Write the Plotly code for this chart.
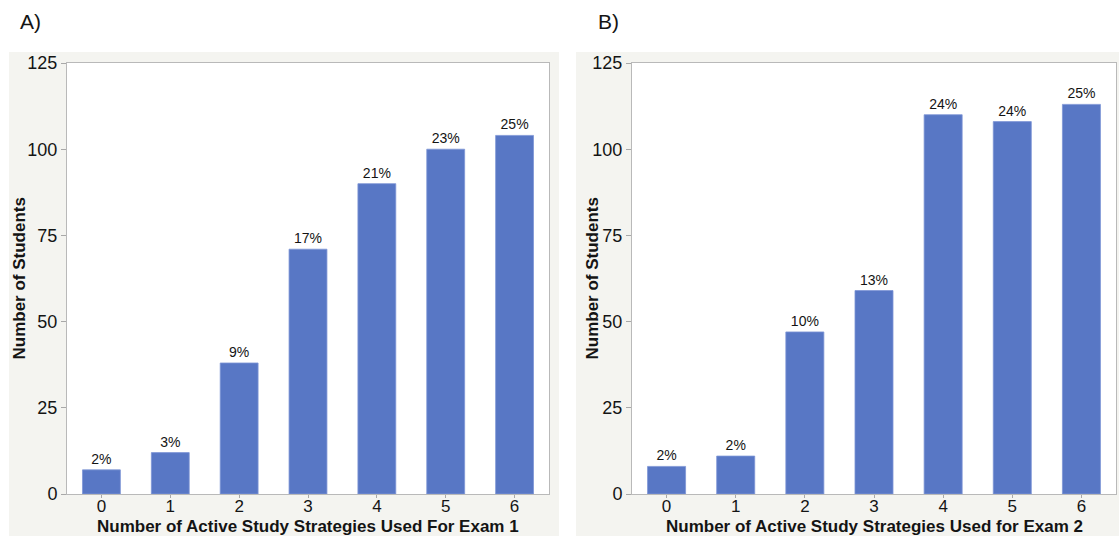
import plotly.graph_objects as go

W, H = 1119, 536

# Data
strategies = [0, 1, 2, 3, 4, 5, 6]
exam1_counts = [7, 12, 38, 71, 90, 100, 104]
exam1_pct = ["2%", "3%", "9%", "17%", "21%", "23%", "25%"]
exam2_counts = [8, 11, 47, 59, 110, 108, 113]
exam2_pct = ["2%", "2%", "10%", "13%", "24%", "24%", "25%"]
y_ticks = [0, 25, 50, 75, 100, 125]

BAR = "#5877c5"
BAR_EDGE = "#7e95d6"
PANEL = "#f4f4f0"
FONT = "Liberation Sans, Arial, sans-serif"
INK = "#141414"


def px_x(x):
    return x / W


def px_y(y):
    return 1 - y / H


fig = go.Figure()

for cnt, pct, xa, ya in [(exam1_counts, exam1_pct, "x", "y"),
                         (exam2_counts, exam2_pct, "x2", "y2")]:
    fig.add_trace(go.Bar(
        x=strategies, y=cnt, text=pct, textposition="outside",
        textfont=dict(size=14, color=INK, family=FONT), cliponaxis=False,
        marker=dict(color=BAR, line=dict(color=BAR_EDGE, width=0.8)),
        width=0.55, xaxis=xa, yaxis=ya, hoverinfo="x+y",
    ))

axis_common = dict(
    showline=True, linecolor="#b9b9b9", linewidth=1, mirror=True,
    tickcolor="#a8a8a8", tickwidth=1,
    showgrid=False, zeroline=False, automargin=False,
)
x_axis = dict(ticks="outside", ticklen=3, ticklabelstandoff=-6,
              tickfont=dict(size=17, color=INK, family=FONT),
              range=[-0.5, 6.5], tickvals=strategies, **axis_common)
y_axis = dict(ticks="outside", ticklen=5, range=[0, 125],
              tickfont=dict(size=18, color=INK, family=FONT),
              tickvals=y_ticks, **axis_common)

xA = (67, 549)
xB = (632, 1116)
y_top, y_bot = 63, 494

fig.update_layout(
    width=W, height=H,
    margin=dict(l=0, r=0, t=0, b=0),
    paper_bgcolor="white", plot_bgcolor="white",
    showlegend=False,
    font=dict(family=FONT, color=INK),
    xaxis=dict(domain=[px_x(xA[0]), px_x(xA[1])], anchor="y", **x_axis),
    yaxis=dict(domain=[px_y(y_bot), px_y(y_top)], anchor="x", **y_axis),
    xaxis2=dict(domain=[px_x(xB[0]), px_x(xB[1])], anchor="y2", **x_axis),
    yaxis2=dict(domain=[px_y(y_bot), px_y(y_top)], anchor="x2", **y_axis),
)

# light panel backgrounds behind each chart, with white plotting areas on top
for (x0, x1), (p0, p1) in [((9, 559), xA), ((576, 1119), xB)]:
    fig.add_shape(type="rect", xref="paper", yref="paper", layer="below",
                  x0=px_x(x0), x1=px_x(x1), y0=0, y1=px_y(52),
                  fillcolor=PANEL, line=dict(width=0))
    fig.add_shape(type="rect", xref="paper", yref="paper", layer="below",
                  x0=px_x(p0), x1=px_x(p1), y0=px_y(y_bot), y1=px_y(y_top),
                  fillcolor="white", line=dict(width=0))

annotations = [
    ("A)", 18, 22, 0, 21, False, "left"),
    ("B)", 596, 22, 0, 21, False, "left"),
    ("Number of Students", 19, (y_top + y_bot) / 2, -90, 17, True, "center"),
    ("Number of Students", 592, (y_top + y_bot) / 2, -90, 17, True, "center"),
    ("Number of Active Study Strategies Used For Exam 1", (xA[0] + xA[1]) / 2, 526, 0, 17, True, "center"),
    ("Number of Active Study Strategies Used for Exam 2", (xB[0] + xB[1]) / 2, 526, 0, 17, True, "center"),
]
for text, x, y, ang, size, bold, anchor in annotations:
    fig.add_annotation(
        text=f"<b>{text}</b>" if bold else text,
        xref="paper", yref="paper", x=px_x(x), y=px_y(y),
        xanchor=anchor, yanchor="middle", showarrow=False, textangle=ang,
        font=dict(size=size, color=INK, family=FONT),
    )

fig.write_html("out.html")
